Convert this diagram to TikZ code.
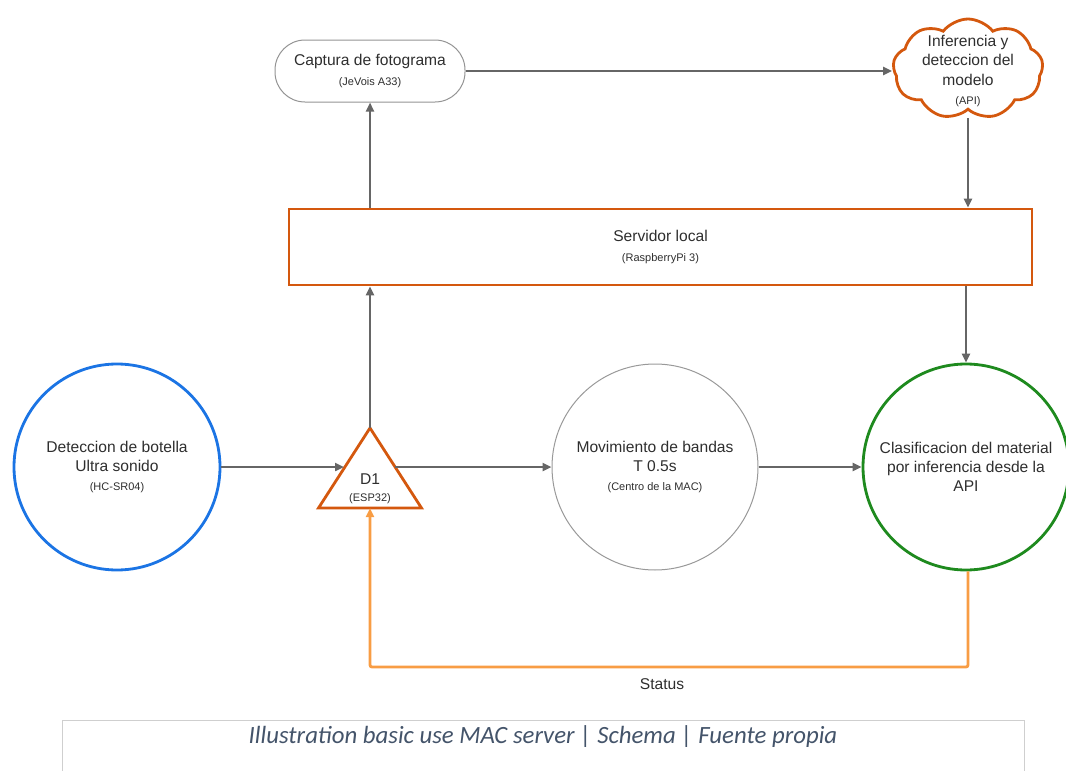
\documentclass[tikz,border=0pt]{standalone}
\usepackage{fontspec}
\setmainfont{Liberation Sans}
\newfontfamily\capfont{Carlito}
\usetikzlibrary{arrows.meta,shapes.symbols,calc}

\definecolor{edgegray}{HTML}{666666}
\definecolor{rust}{HTML}{D4580E}
\definecolor{amber}{HTML}{F89D44}
\definecolor{sky}{HTML}{1B74E4}
\definecolor{leaf}{HTML}{1E8A1E}
\definecolor{ink}{HTML}{2E2E2E}
\definecolor{capink}{HTML}{44546A}
\definecolor{rulegray}{HTML}{CFCFCF}

\newcommand{\subtxt}[1]{{\fontsize{11}{19}\selectfont #1}}

\begin{document}
\begin{tikzpicture}[x=1pt,y=-1pt,
  every node/.style={text=ink},
  maintext/.style={font=\fontsize{15.6}{19.2}\selectfont, align=center},
  link/.style={draw=edgegray, line width=2.4pt, -{Triangle[length=9pt,width=8pt]}},
  statuslink/.style={draw=amber, line width=2.8pt, -{Triangle[length=9pt,width=8pt]}},
  unit/.style={circle, minimum size=206pt, inner sep=0pt, line width=2.8pt, maintext},
]
\useasboundingbox (0,0) rectangle (1066,771);

% upper row: frame capture and cloud inference
\node[maintext, draw=gray!85, line width=1pt, rounded corners=30pt,
      minimum width=190pt, minimum height=62pt] (cap) at (370,71)
  {Captura de fotograma\\\subtxt{(JeVois A33)}};

\node[cloud, draw=rust, line width=2.8pt, cloud puffs=9, cloud puff arc=105,
      aspect=1.45, minimum width=150pt, minimum height=100pt, inner sep=0pt] (api) at (968,69) {};
\node[maintext] (apitxt) at (968,71)
  {Inferencia y\\deteccion del\\modelo\\\subtxt{(API)}};

% local server
\node[maintext, draw=rust, line width=2.8pt, minimum width=743pt, minimum height=76pt] (srv) at (660.5,247)
  {Servidor local\\\subtxt{(RaspberryPi 3)}};

% lower row
\node[unit, draw=sky] (sensor) at (117,467)
  {Deteccion de botella\\Ultra sonido\\\subtxt{(HC-SR04)}};
\node[unit, draw=gray!80, line width=1pt] (belt) at (655,467)
  {Movimiento de bandas\\T 0.5s\\\subtxt{(Centro de la MAC)}};
\node[unit, draw=leaf] (classify) at (966,467)
  {Clasificacion del material\\por inferencia desde la\\API};

% controller D1 (triangle)
\coordinate (d1top) at (370,428);
\coordinate (d1bl) at (318.5,508);
\coordinate (d1br) at (421.5,508);
\draw[rust, line width=2.8pt, line join=miter] (d1top) -- (d1br) -- (d1bl) -- cycle;
\node[maintext, font=\fontsize{15.6}{17}\selectfont] (d1) at (370,489) {D1\\\subtxt{(ESP32)}};
\coordinate (d1in) at (344,467);
\coordinate (d1out) at (395,467);
\coordinate (d1base) at (370,508);

% connectors
\draw[link] (cap.east) -- (api.west |- cap.east);
\draw[link] (968,118) -- (srv.north -| 968,0);
\draw[link] (srv.south -| classify.north) -- (classify.north);
\draw[link] (sensor.east) -- (d1in);
\draw[link] (d1out) -- (belt.west);
\draw[link] (belt.east) -- (classify.west);
\draw[link] (d1top) -- (srv.south -| d1top);
\draw[link] (srv.north -| d1top) -- (cap.south);

% status feedback
\coordinate (fbr) at (968,667);
\coordinate (fbl) at (370,667);
\draw[statuslink, rounded corners=2pt] (classify.south -| fbr) -- (fbr) -- (fbl) -- (d1base);
\node[font=\fontsize{15.6}{18}\selectfont] (status) at (662,684) {Status};

% caption frame
\draw[rulegray, line width=1pt] (62,771) -- (62,720) -- (1024,720) -- (1024,771);
\node[font=\capfont\itshape\fontsize{24.8}{28}\selectfont, text=capink] (caption) at (543,737)
  {Illustration basic use MAC server | Schema | Fuente propia};
\end{tikzpicture}
\end{document}
